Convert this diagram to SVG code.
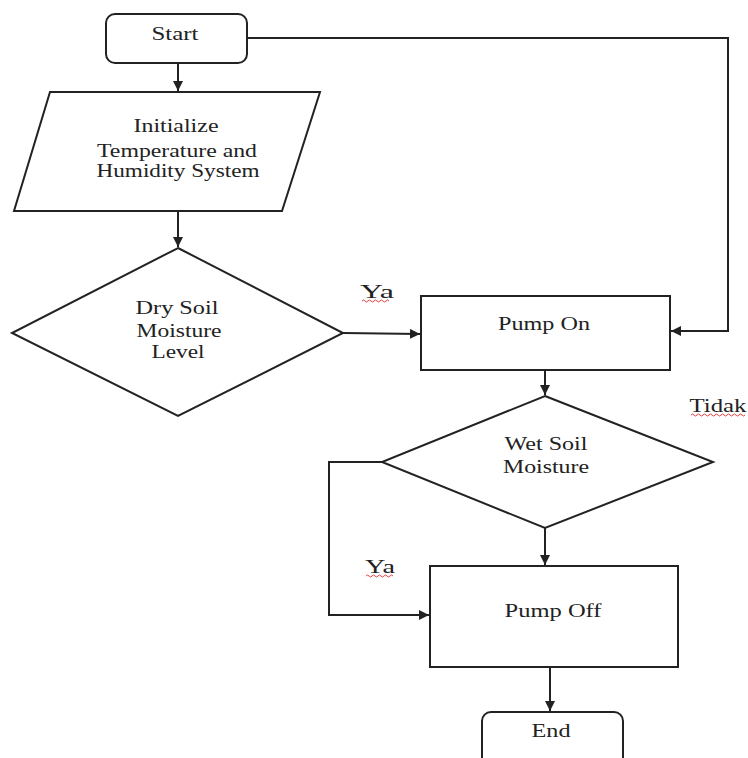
<svg xmlns="http://www.w3.org/2000/svg" width="748" height="758" viewBox="0 0 748 758">
<defs>
<style>
.s{fill:#fff;stroke:#222;stroke-width:2}
.c{fill:none;stroke:#222;stroke-width:2}
text{font-family:"Liberation Serif","Times New Roman",serif;font-size:18px;fill:#222;text-anchor:middle}
.sq{fill:none;stroke:#e04040;stroke-width:1}
</style>
<marker id="ah" viewBox="0 0 10 10" refX="10" refY="5" markerWidth="5" markerHeight="5" orient="auto" markerUnits="strokeWidth">
<path d="M0,0 L10,5 L0,10 z" fill="#222"/>
</marker>
</defs>
<rect width="748" height="758" fill="#fff"/>
<g id="connectors">
<path class="c" d="M178,63 V91" marker-end="url(#ah)"/>
<path class="c" d="M178,211 V247" marker-end="url(#ah)"/>
<path class="c" d="M343,333 L420,334" marker-end="url(#ah)"/>
<path class="c" d="M247,38 H728 V331 H671" marker-end="url(#ah)"/>
<path class="c" d="M545,370 V395" marker-end="url(#ah)"/>
<path class="c" d="M383,462 H329 V615 H429" marker-end="url(#ah)"/>
<path class="c" d="M545,528 V565" marker-end="url(#ah)"/>
<path class="c" d="M550,667 V711" marker-end="url(#ah)"/>
</g>
<g id="start">
<rect class="s" x="106" y="14" width="141" height="49" rx="9"/>
<text x="175" y="40" textLength="47" lengthAdjust="spacingAndGlyphs">Start</text>
</g>
<g id="init">
<polygon class="s" points="50,92 320,92 282,211 14,211"/>
<text x="176" y="132" textLength="85" lengthAdjust="spacingAndGlyphs">Initialize</text>
<text x="177" y="157" textLength="160" lengthAdjust="spacingAndGlyphs">Temperature and</text>
<text x="178" y="177" textLength="163" lengthAdjust="spacingAndGlyphs">Humidity System</text>
</g>
<g id="dry">
<polygon class="s" points="178,248 343,333 178,416 12,333"/>
<text x="177" y="314" textLength="83" lengthAdjust="spacingAndGlyphs">Dry Soil</text>
<text x="179" y="337" textLength="85" lengthAdjust="spacingAndGlyphs">Moisture</text>
<text x="178" y="358" textLength="53" lengthAdjust="spacingAndGlyphs">Level</text>
</g>
<g id="pumpon">
<rect class="s" x="421" y="296" width="249" height="74"/>
<text x="544" y="330" textLength="92" lengthAdjust="spacingAndGlyphs">Pump On</text>
</g>
<g id="wet">
<polygon class="s" points="545,396 713,462 545,528 382,462"/>
<text x="546" y="450" textLength="83" lengthAdjust="spacingAndGlyphs">Wet Soil</text>
<text x="546" y="473" textLength="86" lengthAdjust="spacingAndGlyphs">Moisture</text>
</g>
<g id="pumpoff">
<rect class="s" x="430" y="566" width="248" height="101"/>
<text x="553" y="617" textLength="97" lengthAdjust="spacingAndGlyphs">Pump Off</text>
</g>
<g id="end">
<rect class="s" x="482" y="712" width="141" height="56" rx="9"/>
<text x="551" y="737" textLength="39" lengthAdjust="spacingAndGlyphs">End</text>
</g>
<g id="labels">
<text x="377" y="298" textLength="34" lengthAdjust="spacingAndGlyphs">Ya</text>
<path class="sq" d="M362,301 q1.5,-2 3,0 t3,0 t3,0 t3,0 t3,0 t3,0 t3,0 t3,0 t3,0"/>
<text x="718" y="412" textLength="57" lengthAdjust="spacingAndGlyphs">Tidak</text>
<path class="sq" d="M691,415 q1.5,-2 3,0 t3,0 t3,0 t3,0 t3,0 t3,0 t3,0 t3,0 t3,0 t3,0 t3,0 t3,0 t3,0 t3,0 t3,0 t3,0 t3,0 t3,0"/>
<text x="380" y="573" textLength="30" lengthAdjust="spacingAndGlyphs">Ya</text>
<path class="sq" d="M366,576 q1.5,-2 3,0 t3,0 t3,0 t3,0 t3,0 t3,0 t3,0 t3,0 t3,0"/>
</g>
</svg>
